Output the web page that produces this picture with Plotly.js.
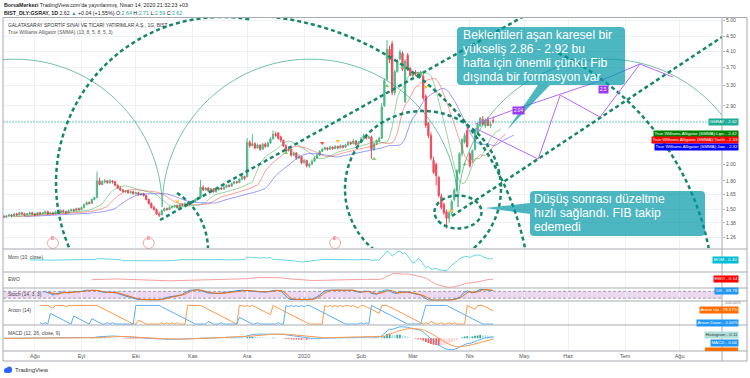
<!DOCTYPE html>
<html><head><meta charset="utf-8">
<script src="https://cdn.plot.ly/plotly-3.0.1.min.js"></script>
<style>html,body{margin:0;padding:0;background:#fff;}#chart{width:750px;height:378px;}</style>
</head><body><div id="chart"></div>
<script>
// ---------- DATA ----------
const monthTickIdx = [12,30,51,73,94,116,138,158,180,201,218,240,261];
const monthTickText = ["Ağu","Eyl","Eki","Kas","Ara","2020","Şub","Mar","Nis","May","Haz","Tem","Ağu"];
const priceTicks = [1.26,1.38,1.50,1.65,1.80,2.00,2.90,3.30,3.70,4.10,4.50,5.00];
const priceTickText = ["1.26","1.38","1.50","1.65","1.80","2.00","2.90","3.30","3.70","4.10","4.50","5.00"];
const hiddenGridPrices = [2.30,2.60];

const openP = [1.44,1.43,1.44,1.45,1.44,1.46,1.45,1.47,1.46,1.45,
1.46,1.47,1.46,1.45,1.47,1.46,1.47,1.48,1.46,1.47,
1.46,1.48,1.47,1.49,1.48,1.47,1.49,1.50,1.49,1.51,
1.50,1.52,1.55,1.57,1.56,1.60,1.62,1.80,1.76,1.79,
1.80,1.78,1.80,1.79,1.75,1.72,1.70,1.68,1.69,1.67,
1.68,1.66,1.67,1.65,1.66,1.64,1.60,1.56,1.52,1.50,
1.46,1.45,1.49,1.51,1.50,1.52,1.53,1.54,1.52,1.55,
1.54,1.56,1.55,1.57,1.58,1.60,1.62,1.73,1.70,1.72,
1.69,1.71,1.68,1.70,1.72,1.71,1.73,1.75,1.74,1.77,
1.79,1.78,1.82,1.85,1.85,2.30,2.25,2.28,2.22,2.26,
2.20,2.27,2.24,2.29,2.35,2.42,2.44,2.38,2.33,2.25,
2.18,2.20,2.12,2.15,2.08,2.10,2.02,2.05,1.98,2.00,
2.04,2.08,2.12,2.17,2.20,2.22,2.20,2.23,2.21,2.24,
2.22,2.25,2.23,2.26,2.30,2.28,2.32,2.27,2.30,2.35,
2.40,2.36,2.38,2.20,2.28,2.32,2.36,2.90,3.43,4.15,
4.30,3.15,3.60,3.90,4.05,2.98,4.00,3.68,3.52,3.58,
3.55,3.50,3.50,3.08,2.60,2.40,2.05,2.00,1.84,1.63,
1.55,1.48,1.42,1.47,1.60,1.70,1.90,2.14,2.30,2.48,
2.14,2.05,2.20,2.44,2.55,2.66,2.55,2.66,2.56,2.64];
const highP = [1.45,1.45,1.46,1.46,1.47,1.47,1.48,1.48,1.47,1.47,
1.48,1.48,1.47,1.48,1.48,1.48,1.49,1.49,1.48,1.48,
1.49,1.49,1.50,1.50,1.49,1.50,1.51,1.51,1.52,1.52,
1.53,1.56,1.58,1.58,1.61,1.63,1.91,1.84,1.81,1.82,
1.81,1.82,1.81,1.80,1.76,1.74,1.71,1.70,1.70,1.69,
1.69,1.68,1.68,1.67,1.67,1.65,1.61,1.57,1.54,1.51,
1.48,1.50,1.52,1.52,1.53,1.54,1.55,1.55,1.56,1.56,
1.57,1.57,1.58,1.59,1.61,1.63,1.81,1.75,1.73,1.73,
1.72,1.72,1.71,1.73,1.73,1.74,1.76,1.76,1.78,1.80,
1.80,1.83,1.87,1.86,2.36,2.33,2.42,2.30,2.28,2.27,
2.29,2.30,2.31,2.38,2.48,2.46,2.45,2.40,2.34,2.27,
2.23,2.21,2.17,2.16,2.13,2.11,2.07,2.06,2.02,2.06,
2.10,2.14,2.19,2.22,2.24,2.23,2.25,2.24,2.26,2.25,
2.27,2.26,2.28,2.32,2.31,2.35,2.33,2.32,2.38,2.43,
2.41,2.40,2.40,2.30,2.34,2.38,2.95,3.45,4.40,4.25,
4.38,3.65,3.90,4.15,4.10,3.90,4.05,3.70,3.62,3.64,
3.60,3.62,3.55,3.12,2.62,2.45,2.10,2.02,1.86,1.66,
1.57,1.50,1.49,1.60,1.72,1.94,2.16,2.36,2.44,2.55,
2.16,2.20,2.50,2.60,2.70,2.72,2.68,2.70,2.62,2.71];
const lowP = [1.42,1.42,1.43,1.43,1.44,1.44,1.45,1.45,1.44,1.45,
1.45,1.45,1.44,1.45,1.45,1.46,1.46,1.45,1.46,1.45,
1.46,1.46,1.47,1.47,1.46,1.47,1.48,1.48,1.49,1.49,
1.50,1.51,1.54,1.55,1.56,1.59,1.61,1.75,1.75,1.77,
1.77,1.77,1.77,1.74,1.71,1.69,1.67,1.67,1.66,1.66,
1.65,1.65,1.64,1.64,1.63,1.59,1.55,1.51,1.49,1.45,
1.43,1.45,1.48,1.49,1.50,1.51,1.52,1.51,1.52,1.53,
1.54,1.54,1.55,1.56,1.57,1.59,1.61,1.69,1.69,1.68,
1.68,1.67,1.67,1.69,1.70,1.70,1.72,1.73,1.74,1.76,
1.77,1.78,1.81,1.81,1.84,2.22,2.24,2.20,2.21,2.18,
2.19,2.22,2.23,2.28,2.34,2.38,2.34,2.30,2.23,2.16,
2.17,2.10,2.11,2.06,2.07,2.00,2.01,1.96,1.95,1.99,
2.03,2.07,2.11,2.16,2.19,2.18,2.19,2.19,2.20,2.20,
2.21,2.21,2.22,2.25,2.26,2.27,2.25,2.26,2.29,2.34,
2.34,2.35,2.07,2.18,2.26,2.30,2.35,2.88,3.40,3.80,
3.10,3.10,3.58,3.88,3.62,2.95,3.62,3.50,3.48,3.50,
3.46,3.48,3.00,2.52,2.36,2.05,1.88,1.75,1.62,1.50,
1.45,1.33,1.38,1.45,1.58,1.68,1.88,2.10,2.28,2.22,
1.96,2.02,2.18,2.42,2.54,2.56,2.52,2.55,2.52,2.59];
const closeP = [1.43,1.44,1.45,1.44,1.46,1.45,1.47,1.46,1.45,1.46,
1.47,1.46,1.45,1.47,1.46,1.47,1.48,1.46,1.47,1.46,
1.48,1.47,1.49,1.48,1.47,1.49,1.50,1.49,1.51,1.50,
1.52,1.55,1.57,1.56,1.60,1.62,1.80,1.76,1.79,1.80,
1.78,1.80,1.79,1.75,1.72,1.70,1.68,1.69,1.67,1.68,
1.66,1.67,1.65,1.66,1.64,1.60,1.56,1.52,1.50,1.46,
1.45,1.49,1.51,1.50,1.52,1.53,1.54,1.52,1.55,1.54,
1.56,1.55,1.57,1.58,1.60,1.62,1.73,1.70,1.72,1.69,
1.71,1.68,1.70,1.72,1.71,1.73,1.75,1.74,1.77,1.79,
1.78,1.82,1.85,1.83,2.30,2.25,2.28,2.22,2.26,2.20,
2.27,2.24,2.29,2.35,2.42,2.40,2.36,2.33,2.25,2.18,
2.20,2.12,2.15,2.08,2.10,2.02,2.05,1.98,2.00,2.04,
2.08,2.12,2.17,2.20,2.22,2.20,2.23,2.21,2.24,2.22,
2.25,2.23,2.26,2.30,2.28,2.32,2.27,2.30,2.35,2.40,
2.36,2.38,2.20,2.28,2.32,2.36,2.88,3.40,4.15,3.88,
3.15,3.60,3.85,4.08,3.66,3.85,3.68,3.52,3.58,3.55,
3.50,3.58,3.05,2.56,2.40,2.08,1.90,1.86,1.64,1.52,
1.47,1.42,1.47,1.58,1.70,1.92,2.14,2.34,2.40,2.24,
1.98,2.18,2.48,2.58,2.68,2.58,2.65,2.56,2.58,2.62];

// fractal markers (bar index, price, kind)
const fractalIdx = [67,109,123,129,143,148,154,163,173,178];
const fractalPrice = [1.58,2.15,2.29,2.32,2.07,3.29,3.71,3.27,1.49,2.00];
const fractalKind = ["up","down","upR","up","down","down","down","up","up","down"];

// earnings events (bar index)
const earningsIdx = [19,56,128];

// fib speed arcs (bar index / price)
const fibArcCenterIdx = [4.05,118.3,232.6];
const fibArcRadiusBars = 57.1;
const fibArcBasePrice = 1.5246;
const fibArcTopPrice = 3.90;

// purple projection path (bar index / price)
const projUpperIdx = [182.0,196.7,231.1,245.7,258.5];
const projUpperPrice = [2.582,2.822,3.414,3.780,3.480];
const projZigIdx = [182.0,206.4,214.9,230.3,245.7];
const projZigPrice = [2.518,2.068,3.104,2.700,3.780];

// ---------- HELPERS ----------
const N = closeP.length;
const barIdx = closeP.map((_, i) => i);
const hl2 = highP.map((h, i) => (h + lowP[i]) / 2);
function smma(src, n){ let p=null; return src.map(v => { p = (p===null) ? v : (p*(n-1)+v)/n; return p; }); }
function sma(src, n){ return src.map((_, i) => { if(i<n-1) return null; let s=0; for(let k=i-n+1;k<=i;k++){ if(src[k]===null) return null; s+=src[k]; } return s/n; }); }
function ema(src, n){ const a=2/(n+1); let p=null; return src.map(v => { p = (p===null)? v : v*a + p*(1-a); return p; }); }

const jaw = smma(hl2, 13), teeth = smma(hl2, 8), lips = smma(hl2, 5);
const mom = closeP.map((c,i) => i>=10 ? c - closeP[i-10] : null);
const s5 = sma(closeP,5), s35 = sma(closeP,35);
const ewo = closeP.map((_,i) => (s35[i]===null) ? null : s5[i]-s35[i]);
const rawK = closeP.map((c,i) => { if(i<13) return null; let lo=Infinity, hi=-Infinity; for(let k=i-13;k<=i;k++){ lo=Math.min(lo,lowP[k]); hi=Math.max(hi,highP[k]); } return hi===lo?50:100*(c-lo)/(hi-lo); });
const stK = sma(rawK,3), stD = sma(stK,3);
const aUp = [], aDn = [];
for(let i=0;i<N;i++){ if(i<14){aUp.push(null);aDn.push(null);continue;} let hi=i-14, lo=i-14; for(let k=i-14;k<=i;k++){ if(highP[k]>=highP[hi]) hi=k; if(lowP[k]<=lowP[lo]) lo=k; } aUp.push(100*(14-(i-hi))/14); aDn.push(100*(14-(i-lo))/14); }
const e12 = ema(closeP,12), e26 = ema(closeP,26);
const macd = e12.map((v,i)=>v-e26[i]);
const sig = ema(macd,9);
const hist = macd.map((v,i)=>v-sig[i]);
const histCol = hist.map((h,i)=>{ const p = i>0?hist[i-1]:h; return h>=0 ? (h>=p?'#26a69a':'#b2dfdb') : (h<p?'#ff5252':'#ffcdd2'); });

// layout geometry
const X_RANGE = [-0.3, 277.4];
const Y_RANGE = [Math.log10(1.1756), Math.log10(5.064)];
const fx = px => (px - 3) / 719;
const fy = py => (351 - py) / 333;
// screen position -> axis value (used for hand-drawn chart drawings)
const pxToIdx = px => X_RANGE[0] + (px - 3) / 719 * (X_RANGE[1] - X_RANGE[0]);
const pyToPrice = py => Math.pow(10, Y_RANGE[1] - (py - 18) / 230 * (Y_RANGE[1] - Y_RANGE[0]));

// user drawings measured on screen
const dotCirclesPx = [[423,189,78,78],[458,212,23.5,16.5]];                                                // cx, cy, rx, ry
const dotArcsPx = [[222,183,166,150,280],[239,307,292,-84,-8],[437,302,277,-64,-8],[140,250,68,-57,5]];    // cx, cy, r, a0, a1
const dotLinesPx = [[160,220,560,-4],[452,216,722,37]];                                                     // x0,y0,x1,y1

// ---------- TRACES ----------
const traces = [];
traces.push({type:'candlestick', x:barIdx, open:openP, high:highP, low:lowP, close:closeP, xaxis:'x', yaxis:'y',
  increasing:{line:{color:'#53b987',width:1}, fillcolor:'#53b987'},
  decreasing:{line:{color:'#eb4d5c',width:1}, fillcolor:'#eb4d5c'}, whiskerwidth:0, hoverinfo:'skip'});
traces.push({type:'scatter', mode:'lines', x:barIdx.map(i=>i+8), y:jaw, line:{color:'rgba(60,60,255,0.5)',width:1}, xaxis:'x', yaxis:'y', hoverinfo:'skip'});
traces.push({type:'scatter', mode:'lines', x:barIdx.map(i=>i+5), y:teeth, line:{color:'rgba(255,40,40,0.45)',width:1}, xaxis:'x', yaxis:'y', hoverinfo:'skip'});
traces.push({type:'scatter', mode:'lines', x:barIdx.map(i=>i+3), y:lips, line:{color:'rgba(40,160,40,0.45)',width:1}, xaxis:'x', yaxis:'y', hoverinfo:'skip'});
traces.push({type:'scatter', mode:'markers', x:fractalIdx, y:fractalPrice, xaxis:'x', yaxis:'y', hoverinfo:'skip',
  marker:{size:4, symbol:fractalKind.map(k=>k==='down'?'triangle-up':'triangle-down'),
  color:fractalKind.map(k=>k==='down'?'#7ccf6a':(k==='upR'?'#ef5350':'#f5c518'))}});
traces.push({type:'scatter', mode:'lines', x:barIdx, y:mom, xaxis:'x', yaxis:'y2', line:{color:'rgba(0,188,212,0.6)',width:1}, hoverinfo:'skip'});
traces.push({type:'scatter', mode:'lines', x:barIdx, y:ewo, xaxis:'x', yaxis:'y3', line:{color:'rgba(240,80,80,0.55)',width:1}, hoverinfo:'skip'});
traces.push({type:'scatter', mode:'lines', x:barIdx, y:stK, xaxis:'x', yaxis:'y4', line:{color:'#2196f3',width:1}, hoverinfo:'skip'});
traces.push({type:'scatter', mode:'lines', x:barIdx, y:stD, xaxis:'x', yaxis:'y4', line:{color:'#ff6d00',width:1}, hoverinfo:'skip'});
traces.push({type:'scatter', mode:'lines', x:barIdx, y:aUp, xaxis:'x', yaxis:'y5', line:{color:'#ff9a4d',width:1}, hoverinfo:'skip'});
traces.push({type:'scatter', mode:'lines', x:barIdx, y:aDn, xaxis:'x', yaxis:'y5', line:{color:'#5aaef5',width:1}, hoverinfo:'skip'});
traces.push({type:'bar', x:barIdx, y:hist, xaxis:'x', yaxis:'y6', marker:{color:histCol}, hoverinfo:'skip'});
traces.push({type:'scatter', mode:'lines', x:barIdx, y:macd, xaxis:'x', yaxis:'y6', line:{color:'#5aaef5',width:1}, hoverinfo:'skip'});
traces.push({type:'scatter', mode:'lines', x:barIdx, y:sig, xaxis:'x', yaxis:'y6', line:{color:'#ff9a4d',width:1}, hoverinfo:'skip'});

// ---------- SHAPES ----------
const shapes = [];
const frame = '#a8abb3';
function pline(x0,y0,x1,y1,col,w){ shapes.push({type:'line',xref:'paper',yref:'paper',x0:fx(x0),y0:fy(y0),x1:fx(x1),y1:fy(y1),line:{color:col||frame,width:w||1}}); }
hiddenGridPrices.forEach(p => shapes.push({type:'line', xref:'paper', yref:'y', x0:0, x1:1, y0:p, y1:p, line:{color:'#eef1f6',width:1}, layer:'below'}));
shapes.push({type:'rect', xref:'paper', yref:'y4', x0:0, x1:fx(722), y0:20, y1:80, fillcolor:'rgba(156,39,176,0.18)', line:{width:0}, layer:'below'});
shapes.push({type:'line', xref:'paper', yref:'y4', x0:0, x1:fx(722), y0:80, y1:80, line:{color:'#8a8a9a',width:0.8,dash:'3px,2px'}});
shapes.push({type:'line', xref:'paper', yref:'y4', x0:0, x1:fx(722), y0:20, y1:20, line:{color:'#8a8a9a',width:0.8,dash:'3px,2px'}});
shapes.push({type:'line', xref:'paper', yref:'y', x0:0, x1:1, y0:closeP[N-1], y1:closeP[N-1], line:{color:'rgba(34,171,148,0.35)',width:2,dash:'2px,1px'}});

function upperArc(cx, rx, base, top){
  const k=0.5523, yk=Math.exp(Math.log(base)+k*(Math.log(top)-Math.log(base)));
  const f=v=>v.toFixed(4);
  return `M${f(cx-rx)},${f(base)} C${f(cx-rx)},${f(yk)} ${f(cx-k*rx)},${f(top)} ${f(cx)},${f(top)} C${f(cx+k*rx)},${f(top)} ${f(cx+rx)},${f(yk)} ${f(cx+rx)},${f(base)}`;
}
fibArcCenterIdx.forEach(c => shapes.push({type:'path', xref:'x', yref:'y', path:upperArc(c, fibArcRadiusBars, fibArcBasePrice, fibArcTopPrice), line:{color:'rgba(40,160,120,0.65)',width:1}}));

const dotLine = {color:'#17876a', width:2.5, dash:'4px,3px'};
dotCirclesPx.forEach(c => shapes.push({type:'circle', xref:'x', yref:'y', x0:pxToIdx(c[0]-c[2]), x1:pxToIdx(c[0]+c[2]), y0:pyToPrice(c[1]+c[3]), y1:pyToPrice(c[1]-c[3]), line:dotLine}));
dotArcsPx.forEach(a => { let s=''; const n=60; for(let k=0;k<=n;k++){ const t=(a[3]+(a[4]-a[3])*k/n)*Math.PI/180; s += (k?'L':'M') + pxToIdx(a[0]+a[2]*Math.cos(t)).toFixed(3) + ',' + pyToPrice(a[1]+a[2]*Math.sin(t)).toFixed(5) + ' '; } shapes.push({type:'path', xref:'x', yref:'y', path:s.trim(), line:dotLine}); });
dotLinesPx.forEach(l => shapes.push({type:'line', xref:'x', yref:'y', x0:pxToIdx(l[0]), y0:pyToPrice(l[1]), x1:pxToIdx(l[2]), y1:pyToPrice(l[3]), line:dotLine}));

function poly(xs, ys){ return xs.map((x,i)=>(i?'L':'M')+x.toFixed(3)+','+ys[i].toFixed(4)).join(' '); }
shapes.push({type:'path', xref:'x', yref:'y', path:poly(projUpperIdx, projUpperPrice), line:{color:'#b36bff',width:1}});
shapes.push({type:'path', xref:'x', yref:'y', path:poly(projZigIdx, projZigPrice), line:{color:'#b36bff',width:1}});

// callout boxes (rounded)
const boxCol = 'rgba(0,151,167,0.7)';
function rrect(x0,y0,x1,y1,r){ return `M${fx(x0+r)},${fy(y0)} L${fx(x1-r)},${fy(y0)} Q${fx(x1)},${fy(y0)} ${fx(x1)},${fy(y0+r)} L${fx(x1)},${fy(y1-r)} Q${fx(x1)},${fy(y1)} ${fx(x1-r)},${fy(y1)} L${fx(x0+r)},${fy(y1)} Q${fx(x0)},${fy(y1)} ${fx(x0)},${fy(y1-r)} L${fx(x0)},${fy(y0+r)} Q${fx(x0)},${fy(y0)} ${fx(x0+r)},${fy(y0)} Z`; }
shapes.push({type:'path', xref:'paper', yref:'paper', path:rrect(457,27,625,85,4), fillcolor:boxCol, line:{width:0}});
shapes.push({type:'path', xref:'paper', yref:'paper', path:`M${fx(538)},${fy(85)} L${fx(507)},${fy(130)} L${fx(550)},${fy(85)} Z`, fillcolor:boxCol, line:{width:0}});
shapes.push({type:'path', xref:'paper', yref:'paper', path:rrect(530,191,705,236,4), fillcolor:boxCol, line:{width:0}});
shapes.push({type:'path', xref:'paper', yref:'paper', path:`M${fx(530)},${fy(203)} L${fx(485)},${fy(208)} L${fx(530)},${fy(214)} Z`, fillcolor:boxCol, line:{width:0}});

earningsIdx.forEach(i => shapes.push({type:'circle', xref:'x', yref:'paper', x0:i-2.1, x1:i+2.1, y0:fy(248.5), y1:fy(237.5), line:{color:'#f5a3a8',width:1}}));

[249,272,288,301,325,351].forEach(y => pline(3,y,747,y));
shapes.push({type:'rect',xref:'paper',yref:'paper',x0:fx(3),x1:fx(747),y0:fy(361),y1:fy(17.5),line:{color:frame,width:1}});
pline(722,17.5,722,361);
shapes.push({type:'rect',xref:'paper',yref:'paper',x0:fx(705),x1:fx(738),y0:fy(351),y1:fy(347.5),fillcolor:'#ff6d00',line:{width:0}});
shapes.push({type:'circle',xref:'paper',yref:'paper',x0:fx(4),x1:fx(9),y0:fy(373),y1:fy(368),fillcolor:'#2962ff',line:{width:0}});
shapes.push({type:'circle',xref:'paper',yref:'paper',x0:fx(6.5),x1:fx(12),y0:fy(373),y1:fy(366.5),fillcolor:'#2962ff',line:{width:0}});

// ---------- ANNOTATIONS ----------
const F = 'Liberation Sans, Arial, sans-serif';
const anns = [];
function ann(text, xpx, ypx, o){ anns.push(Object.assign({xref:'paper',yref:'paper',x:fx(xpx),y:fy(ypx),text:text,showarrow:false,xanchor:'left',yanchor:'middle',font:{family:F,size:5,color:'#333'}}, o||{})); }
const G='#26a69a';
ann("<b>BorsaMerkezi</b> TradingView.com'da yayınlanmış, Nisan 14, 2020 21:32:23 +03", 2, 5, {font:{family:F,size:5.3,color:'#222'}});
ann(`<b>BIST_DLY:GSRAY, 1D</b> 2.62 <span style="color:${G}">▲</span> +0.04 (+1.55%) O:<span style="color:${G}">2.64</span> H:<span style="color:${G}">2.71</span> L:<span style="color:${G}">2.59</span> C:<span style="color:${G}">2.62</span>`, 2, 13, {font:{family:F,size:5.3,color:'#222'}});
ann("GALATASARAY SPORTİF SINAİ VE TİCARİ YATIRIMLAR A.Ş., 1G, BIST", 6, 25, {font:{family:F,size:4.9,color:'#333'}});
ann("True Williams Alligator (SMMA) (13, 8, 5, 8, 5, 3)", 6, 33, {font:{family:F,size:4.9,color:'#555'}});
ann("Mom (10, close)", 6, 257.5, {font:{family:F,size:4.9,color:'#444'}});
ann("EWO", 6, 279, {font:{family:F,size:4.9,color:'#444'}});
ann("Stoch (14, 3, 3)", 6, 294, {font:{family:F,size:4.9,color:'#444'}});
ann("Aroon (14)", 6, 310, {font:{family:F,size:4.9,color:'#444'}});
ann("MACD (12, 26, close, 9)", 6, 333, {font:{family:F,size:4.9,color:'#444'}});
ann("TradingView", 13, 370, {font:{family:F,size:6,color:'#333'}});
ann("100.00%", 723, 302.5, {font:{family:F,size:4,color:'#777'}});

const cf = {family:F,size:12.2,color:'#ffffff'};
[["Beklentileri aşan karesel bir",35.5],["yükseliş 2.86 - 2.92 bu",49.2],["hafta için önemli çünkü Fib",62.9],["dışında bir formasyon var",76.6]].forEach(t => ann(t[0], 462, t[1], {font:cf, borderpad:0}));
[["Düşüş sonrası düzeltme",199.4],["hızlı sağlandı. FIB takip",213.1],["edemedi",226.8]].forEach(t => ann(t[0], 533, t[1], {font:cf, borderpad:0}));

ann("2.04", 518, 110, {xanchor:'center', bgcolor:'#9b3bf5', font:{family:F,size:4.6,color:'#fff'}, borderpad:1});
ann("2.5", 603, 89.5, {xanchor:'center', bgcolor:'#9b3bf5', font:{family:F,size:4.6,color:'#fff'}, borderpad:1});

earningsIdx.forEach(i => anns.push({xref:'x',yref:'paper',x:i,y:fy(243),text:'E',showarrow:false,font:{family:F,size:5,color:'#f06b7a'}}));

function rlab(text, ypx, bg, col){ ann(text, 739, ypx, {xanchor:'right', bgcolor:bg, borderpad:0.4, font:{family:F,size:4.4,color:col||'#fff'}}); }
rlab("GSRAY - 2.62", 121.5, '#22ab94');
rlab("True Williams Alligator (SMMA):Lips - 2.42", 133.8, '#008000');
rlab("True Williams Alligator (SMMA):Teeth - 2.33", 140.3, '#ff0000');
rlab("True Williams Alligator (SMMA):Jaw - 2.32", 146.8, '#0000ff');
rlab("MOM - 0.40", 259.5, '#00bcd4');
rlab("EWO - 0.14", 279, '#ff0000');
rlab("%K - 89.78", 290.5, '#2196f3');
rlab("Aroon Up - 78.57%", 309.5, '#ff6d00');
rlab("Aroon Down - 0.00%", 323, '#2196f3');
rlab("Histogram - 0.11", 334.5, '#b2dfdb', '#333');
rlab("MACD - 0.04", 342.5, '#2196f3');

// ---------- LAYOUT ----------
const sub = (d, extra) => Object.assign({domain:d, showticklabels:false, showgrid:false, zeroline:false, showline:false, ticks:'', fixedrange:true}, extra||{});
const layout = {
  width:750, height:378, margin:{l:3,r:28,t:18,b:27}, paper_bgcolor:'#fff', plot_bgcolor:'#fff',
  showlegend:false, bargap:0.35,
  font:{family:F, size:5.5, color:'#555'},
  xaxis:{range:X_RANGE, tickmode:'array', tickvals:monthTickIdx, ticktext:monthTickText, showgrid:true, gridcolor:'#eef1f6', gridwidth:1,
    zeroline:false, showline:false, ticks:'', anchor:'y6', rangeslider:{visible:false}, tickfont:{family:F,size:5.5,color:'#555'}, fixedrange:true},
  yaxis:{domain:[0.3093,1], type:'log', range:Y_RANGE, side:'right', tickmode:'array', tickvals:priceTicks, ticktext:priceTickText,
    showgrid:true, gridcolor:'#eef1f6', zeroline:false, showline:false, ticks:'outside', ticklen:2, tickcolor:'#b0b3ba', tickfont:{family:F,size:5,color:'#555'}, fixedrange:true},
  yaxis2: sub([0.2372,0.3033]),
  yaxis3: sub([0.1892,0.2357]),
  yaxis4: sub([0.1502,0.1877], {range:[-5,105]}),
  yaxis5: sub([0.0781,0.1486], {range:[-5,121]}),
  yaxis6: sub([0,0.0766]),
  shapes:shapes, annotations:anns
};
Plotly.newPlot('chart', traces, layout, {staticPlot:true, displayModeBar:false});
</script></body></html>
